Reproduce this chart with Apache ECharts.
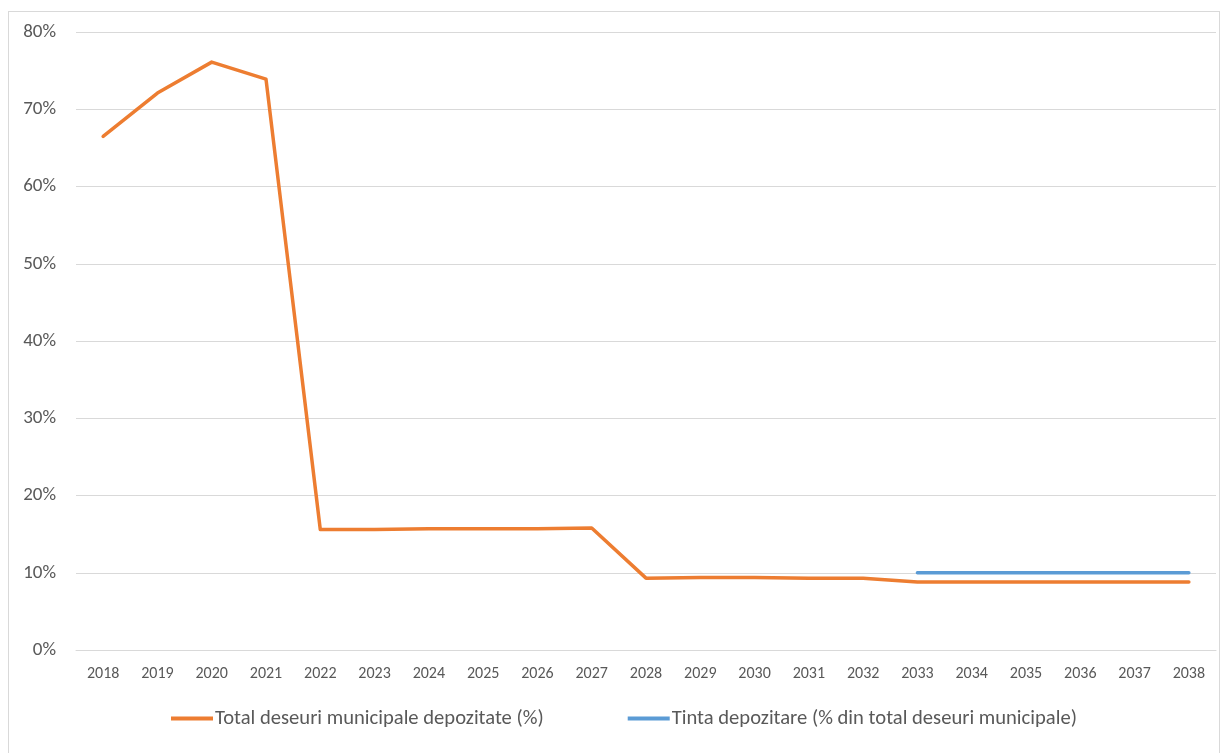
<!DOCTYPE html>
<html>
<head>
<meta charset="utf-8">
<script src="https://cdn.jsdelivr.net/npm/echarts@6/dist/echarts.min.js"></script>
<style>
  html, body { margin: 0; padding: 0; background: #fff; }
  #frame { position: absolute; left: 8px; top: 11px; width: 1212px; height: 750px; border: 1px solid #d9d9d9; box-sizing: border-box; }
  #chart { position: absolute; left: 0; top: 0; width: 1226px; height: 753px; }
</style>
</head>
<body>
<div id="frame"></div>
<div id="chart"></div>
<script>
// Years on the category axis
const years = ['2018','2019','2020','2021','2022','2023','2024','2025','2026','2027','2028',
               '2029','2030','2031','2032','2033','2034','2035','2036','2037','2038'];
// Share of municipal waste landfilled (%)
const totalLandfilled = [66.5, 72.1, 76.1, 73.9, 15.6, 15.6, 15.7, 15.7, 15.7, 15.8, 9.3,
                         9.4, 9.4, 9.3, 9.3, 8.8, 8.8, 8.8, 8.8, 8.8, 8.8];
// Landfill target (% of total municipal waste), from 2033 on
const landfillTarget = [null, null, null, null, null, null, null, null, null, null, null,
                        null, null, null, null, 10, 10, 10, 10, 10, 10];
const seriesNames = ['Total deseuri municipale depozitate (%)', 'Tinta depozitare (% din total deseuri municipale)'];

const font = 'Calibri, Carlito, Lato, sans-serif';
const chart = echarts.init(document.getElementById('chart'));
chart.setOption({
  animation: false,
  grid: { left: 76, right: 10, top: 32, bottom: 103 },
  legend: {
    bottom: 19,
    left: 166,
    itemWidth: 42,
    itemHeight: 4,
    itemGap: 84,
    icon: 'rect',
    textStyle: { fontFamily: font, fontSize: 20.6, color: '#595959', padding: [0, 0, 0, -3] },
    data: seriesNames
  },
  xAxis: {
    type: 'category',
    data: years,
    boundaryGap: true,
    axisTick: { show: false },
    axisLine: { lineStyle: { color: '#d9d9d9', width: 1 } },
    axisLabel: { fontFamily: font, fontSize: 16, color: '#595959', margin: 16 }
  },
  yAxis: {
    type: 'value',
    min: 0, max: 80, interval: 10,
    axisLine: { show: false },
    axisTick: { show: false },
    splitLine: { lineStyle: { color: '#d9d9d9', width: 1 } },
    axisLabel: { fontFamily: font, fontSize: 19, color: '#595959', margin: 20, formatter: '{value}%' }
  },
  series: [
    {
      name: seriesNames[0], type: 'line', data: totalLandfilled,
      symbol: 'none', lineStyle: { color: '#ED7D31', width: 3.5, cap: 'round', join: 'round' },
      itemStyle: { color: '#ED7D31' }
    },
    {
      name: seriesNames[1], type: 'line', data: landfillTarget,
      symbol: 'none', lineStyle: { color: '#5B9BD5', width: 3.5, cap: 'round' },
      itemStyle: { color: '#5B9BD5' }
    }
  ]
});
</script>
</body>
</html>
